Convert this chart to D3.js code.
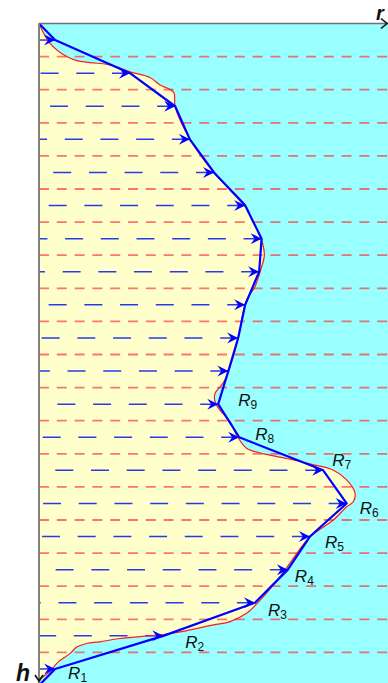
<!DOCTYPE html>
<html>
<head>
<meta charset="utf-8">
<script src="https://cdn.jsdelivr.net/npm/d3@7"></script>
<style>
  html, body { margin: 0; padding: 0; background: #fff; }
  svg { display: block; }
  text { font-family: "Liberation Sans", Arial, sans-serif; }
</style>
</head>
<body>
<svg id="chart" width="388" height="683"></svg>
<script>
// Layer mid-depths (h) where each ray is launched
const layerDepths = [0.5, 1.5, 2.5, 3.5, 4.5, 5.5, 6.5, 7.5, 8.5, 9.5,
                     10.5, 11.5, 12.5, 13.5, 14.5, 15.5, 16.5, 17.5, 18.5, 19.5];
// Radius reached by the piecewise profile at each layer depth
const layerRadius = [0.46, 2.60, 3.89, 4.31, 5.00, 5.89, 6.36, 6.29, 5.89, 5.69,
                     5.41, 5.12, 5.72, 8.12, 8.79, 7.74, 7.11, 6.17, 3.55, 0.46];
// Layer boundaries (red dashed)
const boundaryDepths = [1, 2, 3, 4, 5, 6, 7, 8, 9, 10, 11, 12, 13, 14, 15, 16, 17, 18, 19];
// Smooth true profile: radius and depth pairs
const profileR = [0, 0.31, 0.79, 1.08, 1.46, 2.03, 2.60, 3.17, 3.46, 3.74, 3.86, 3.89,
                  4.31, 5.00, 5.89, 6.09, 6.31, 6.44, 6.36, 6.17, 5.93, 5.83, 5.70,
                  5.43, 5.31, 5.22, 5.03, 5.03, 5.17, 5.46, 5.67, 5.93, 6.46, 7.17,
                  7.80, 8.40, 8.79, 9.03, 8.98, 8.79, 8.41, 7.74, 7.17, 6.89, 6.23,
                  5.93, 5.46, 4.98, 4.03, 3.55, 2.31, 1.74, 1.36, 1.08, 0.89, 0.51,
                  0.31, 0.03, 0];
const profileH = [0, 0.59, 1.00, 1.12, 1.18, 1.25, 1.46, 1.63, 1.86, 1.99, 2.10, 2.51,
                  3.49, 4.51, 5.48, 5.94, 6.39, 6.99, 7.35, 7.95, 8.35, 8.75, 9.47,
                  10.47, 10.77, 10.92, 11.17, 11.43, 11.68, 12.03, 12.48, 12.83, 13.01, 13.16,
                  13.32, 13.49, 13.79, 14.19, 14.45, 14.60, 15.00, 15.51, 16.30, 16.71, 17.52,
                  17.82, 18.07, 18.17, 18.38, 18.46, 18.58, 18.68, 18.73, 18.84, 19.03, 19.33,
                  19.58, 19.83, 20];
// Labelled rays, counted from the bottom
const rayLabels = ["1", "2", "3", "4", "5", "6", "7", "8", "9"];
const rayLabelLayer = [19, 18, 17, 16, 15, 14, 13, 12, 11];

// Label placement relative to its vertex (layout only)
const labelOffset = [[13, 10], [22, 12], [13, 13], [7, 12], [15, 11], [13, 11], [9, -4], [16, 3], [20, 2]];

const svg = d3.select("#chart");
const x = d3.scaleLinear().domain([0, 10]).range([39, 389]);
const y = d3.scaleLinear().domain([0, 20]).range([23.5, 685.5]);

// Plot background
svg.append("rect")
  .attr("x", x(0)).attr("y", y(0))
  .attr("width", 388 - x(0)).attr("height", 683 - y(0))
  .attr("fill", "#99ffff");

// Region inside the true profile
const profile = profileR.map((r, i) => [r, profileH[i]]);
const area = d3.area()
  .x0(x(0))
  .x1(d => x(d[0]))
  .y(d => y(d[1]))
  .curve(d3.curveCatmullRom.alpha(0.5));
svg.append("path").datum(profile)
  .attr("d", area)
  .attr("fill", "#ffffcc");

// Layer boundaries
svg.append("g").selectAll("line").data(boundaryDepths).join("line")
  .attr("x1", x(0)).attr("x2", 388)
  .attr("y1", d => y(d)).attr("y2", d => y(d))
  .attr("stroke", "#ff3b3b")
  .attr("stroke-opacity", 0.7)
  .attr("stroke-width", 1.8)
  .attr("stroke-dasharray", "10,7.8");

// Horizontal rays, dashed back from each vertex to the axis
svg.append("g").selectAll("line").data(layerDepths).join("line")
  .attr("x1", (d, i) => x(layerRadius[i])).attr("x2", x(0))
  .attr("y1", d => y(d)).attr("y2", d => y(d))
  .attr("stroke", "#2a3ae6")
  .attr("stroke-width", 1.5)
  .attr("stroke-dasharray", "18,17.7");

// True profile outline
const line = d3.line()
  .x(d => x(d[0])).y(d => y(d[1]))
  .curve(d3.curveCatmullRom.alpha(0.5));
svg.append("path").datum(profile)
  .attr("d", line)
  .attr("fill", "none")
  .attr("stroke", "#ff1a1a")
  .attr("stroke-width", 1.2);

// Piecewise-linear reconstruction
const recon = [[0, 0]].concat(layerDepths.map((h, i) => [layerRadius[i], h])).concat([[0, 20]]);
svg.append("path").datum(recon)
  .attr("d", d3.line().x(d => x(d[0])).y(d => y(d[1])))
  .attr("fill", "none")
  .attr("stroke", "#0000ff")
  .attr("stroke-width", 2.2)
  .attr("stroke-linejoin", "round");

// Arrowheads at every vertex
svg.append("g").selectAll("path").data(layerDepths).join("path")
  .attr("transform", (d, i) => `translate(${x(layerRadius[i])},${y(d)})`)
  .attr("d", "M0,0 L-11,-5.5 L-7,0 L-11,5.5 Z")
  .attr("fill", "#0000ff");

// Axes
svg.append("line")
  .attr("x1", x(0)).attr("x2", 388).attr("y1", y(0)).attr("y2", y(0))
  .attr("stroke", "#707070").attr("stroke-width", 1.6);
svg.append("line")
  .attr("x1", x(0)).attr("x2", x(0)).attr("y1", y(0)).attr("y2", 683)
  .attr("stroke", "#808080").attr("stroke-width", 2);

// Axis arrows and names
svg.append("path")
  .attr("d", "M381,18.5 L387,23.5 L381,28.5")
  .attr("fill", "none").attr("stroke", "#111").attr("stroke-width", 1.6);
svg.append("text")
  .attr("x", 376).attr("y", 20)
  .attr("font-size", 20).attr("font-weight", "bold").attr("font-style", "italic")
  .attr("fill", "#111").text("r");
svg.append("path")
  .attr("d", "M35,675 L39,681 L43,675")
  .attr("fill", "none").attr("stroke", "#111").attr("stroke-width", 1.6);
svg.append("text")
  .attr("x", 16).attr("y", 681)
  .attr("font-size", 23).attr("font-weight", "bold").attr("font-style", "italic")
  .attr("fill", "#111").text("h");

// Ray labels R1..R9
const lab = svg.append("g").selectAll("text").data(rayLabels).join("text")
  .attr("x", (d, i) => x(layerRadius[rayLabelLayer[i]]) + labelOffset[i][0])
  .attr("y", (d, i) => y(layerDepths[rayLabelLayer[i]]) + labelOffset[i][1])
  .attr("font-size", 17)
  .attr("fill", "#111");
lab.append("tspan").attr("font-style", "italic").text("R");
lab.append("tspan").attr("font-size", 12).attr("dy", 3).text(d => d);
</script>
</body>
</html>
